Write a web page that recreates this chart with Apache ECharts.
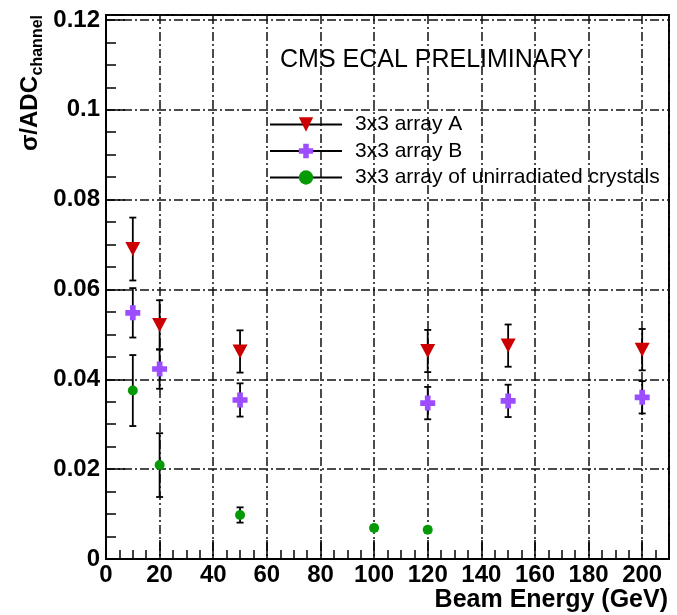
<!DOCTYPE html>
<html>
<head>
<meta charset="utf-8">
<script src="https://cdn.jsdelivr.net/npm/echarts@6/dist/echarts.min.js"></script>
<style>
  html, body { margin: 0; padding: 0; background: #fff; }
  #chart { width: 677px; height: 615px; }
</style>
</head>
<body>
<div id="chart"></div>
<script>
// Energy resolution term per channel vs beam energy
const energiesA = [10, 20, 50, 120, 150, 200];
const sigmaA    = [0.0690, 0.0521, 0.0462, 0.0463, 0.0475, 0.0466];
const errA      = [0.0070, 0.0055, 0.0047, 0.0047, 0.0047, 0.0046];

const energiesB = [10, 20, 50, 120, 150, 200];
const sigmaB    = [0.0548, 0.0423, 0.0354, 0.0347, 0.0352, 0.0360];
const errB      = [0.0055, 0.0044, 0.0037, 0.0036, 0.0036, 0.0036];

const energiesC = [10, 20, 50, 100, 120];
const sigmaC    = [0.0375, 0.0209, 0.0098, 0.0069, 0.0065];
const errC      = [0.0079, 0.0071, 0.0017, 0.0006, 0.0006];

const seriesNames = ['3x3 array A', '3x3 array B', '3x3 array of unirradiated crystals'];
const seriesColors = ['#cc0000', '#9b4dff', '#079a07'];

const xMin = 0, xMax = 210, xMajor = 20, xMinor = 5;
const yMin = 0, yMax = 0.1211, yMajor = 0.02, yMinor = 0.005;

const FONT = 'Liberation Sans, Arial, Helvetica, sans-serif';
const gridDash = [9, 3, 2, 3];

const points = (xs, ys) => xs.map((x, i) => [x, ys[i]]);
const bars = (xs, ys, es) => xs.map((x, i) => [x, ys[i] - es[i], ys[i] + es[i]]);

function renderErrorBar(params, api) {
  const x = api.value(0);
  const lo = api.coord([x, api.value(1)]);
  const hi = api.coord([x, api.value(2)]);
  const cap = 3.5;
  const st = { stroke: '#000', lineWidth: 1.8 };
  return {
    type: 'group',
    children: [
      { type: 'line', shape: { x1: hi[0], y1: hi[1], x2: lo[0], y2: lo[1] }, style: st },
      { type: 'line', shape: { x1: hi[0] - cap, y1: hi[1], x2: hi[0] + cap, y2: hi[1] }, style: st },
      { type: 'line', shape: { x1: lo[0] - cap, y1: lo[1], x2: lo[0] + cap, y2: lo[1] }, style: st }
    ]
  };
}

const triangleDown = 'path://M0,0L100,0L50,90Z';
const thickCross = 'path://M31,0H69V31H100V69H69V100H31V69H0V31H31Z';

const markerSeries = (name, data, symbol, size, color) => ({
  name, type: 'line', data,
  xAxisIndex: 0, yAxisIndex: 0,
  symbol, symbolSize: size, showSymbol: true,
  lineStyle: { width: 0, opacity: 0 },
  itemStyle: { color, opacity: 1 },
  emphasis: { disabled: true },
  silent: true, z: 5
});

const errorSeries = (data) => ({
  type: 'custom', data, renderItem: renderErrorBar,
  xAxisIndex: 0, yAxisIndex: 0, silent: true, z: 3
});

const chart = echarts.init(document.getElementById('chart'), null, { renderer: 'canvas' });

chart.setOption({
  animation: false,
  backgroundColor: '#fff',
  grid: {
    left: 106, right: 8, top: 15, bottom: 56,
    show: true, borderColor: '#000', borderWidth: 2, backgroundColor: 'transparent'
  },
  xAxis: [
    {
      type: 'value', min: xMin, max: xMax, interval: xMajor, position: 'bottom',
      axisLine: { show: true, onZero: false, lineStyle: { color: '#000', width: 2 } },
      axisTick: { show: true, inside: true, length: 19, lineStyle: { color: '#000', width: 1.5 } },
      axisLabel: {
        margin: 4, color: '#000', fontSize: 24, fontWeight: 'bold', fontFamily: FONT,
        formatter: v => (v % xMajor === 0 ? String(v) : '')
      },
      splitLine: { show: true, lineStyle: { color: '#111', width: 1.5, type: gridDash } }
    },
    {
      type: 'value', min: xMin, max: xMax, interval: xMinor, position: 'bottom', offset: 0,
      axisLine: { show: false, onZero: false },
      axisTick: { show: true, inside: true, length: 9, lineStyle: { color: '#000', width: 1.5 } },
      axisLabel: { show: false },
      splitLine: { show: false }
    }
  ],
  yAxis: [
    {
      type: 'value', min: yMin, max: yMax, interval: yMajor, position: 'left',
      axisLine: { show: true, onZero: false, lineStyle: { color: '#000', width: 2 } },
      axisTick: { show: true, inside: true, length: 19, lineStyle: { color: '#000', width: 1.5 } },
      axisLabel: {
        margin: 6, color: '#000', fontSize: 24, fontWeight: 'bold', fontFamily: FONT,
        formatter: v => (Math.abs(v / yMajor - Math.round(v / yMajor)) < 1e-6 ? String(+v.toFixed(2)) : '')
      },
      splitLine: { show: true, lineStyle: { color: '#111', width: 1.5, type: gridDash } }
    },
    {
      type: 'value', min: yMin, max: yMax, interval: yMinor, position: 'left', offset: 0,
      axisLine: { show: false, onZero: false },
      axisTick: { show: true, inside: true, length: 10, lineStyle: { color: '#000', width: 1.5 } },
      axisLabel: { show: false },
      splitLine: { show: false }
    }
  ],
  legend: {
    data: seriesNames,
    orient: 'vertical', left: 269, top: 114, padding: 0,
    itemWidth: 72, itemHeight: 18, itemGap: 5.5,
    selectedMode: false,
    lineStyle: { width: 2, color: '#000', opacity: 1, type: 'solid' },
    textStyle: { fontSize: 21, color: '#000', fontFamily: FONT, padding: [0, 0, 0, 8] }
  },
  graphic: [
    {
      type: 'text', x: 280, y: 60,
      style: { text: 'CMS ECAL PRELIMINARY', fill: '#000', font: '25px ' + FONT, textAlign: 'left', textVerticalAlign: 'middle' }
    },
    {
      type: 'text', x: 668, y: 600,
      style: { text: 'Beam Energy (GeV)', fill: '#000', font: 'bold 25px ' + FONT, textAlign: 'right', textVerticalAlign: 'middle' }
    },
    {
      type: 'group', x: 0, y: 0, rotation: Math.PI / 2,
      children: [
        {
          type: 'text', x: -76, y: 42,
          style: { text: 'σ/ADC', fill: '#000', font: 'bold 24px ' + FONT, textAlign: 'right', textVerticalAlign: 'bottom' }
        },
        {
          type: 'text', x: -15, y: 46,
          style: { text: 'channel', fill: '#000', font: 'bold 16px ' + FONT, textAlign: 'right', textVerticalAlign: 'bottom' }
        }
      ]
    }
  ],
  series: [
    errorSeries(bars(energiesA, sigmaA, errA)),
    errorSeries(bars(energiesB, sigmaB, errB)),
    errorSeries(bars(energiesC, sigmaC, errC)),
    markerSeries(seriesNames[0], points(energiesA, sigmaA), triangleDown, [15, 14], seriesColors[0]),
    markerSeries(seriesNames[1], points(energiesB, sigmaB), thickCross, [15, 15], seriesColors[1]),
    markerSeries(seriesNames[2], points(energiesC, sigmaC), 'circle', 10, seriesColors[2])
  ]
});
</script>
</body>
</html>
